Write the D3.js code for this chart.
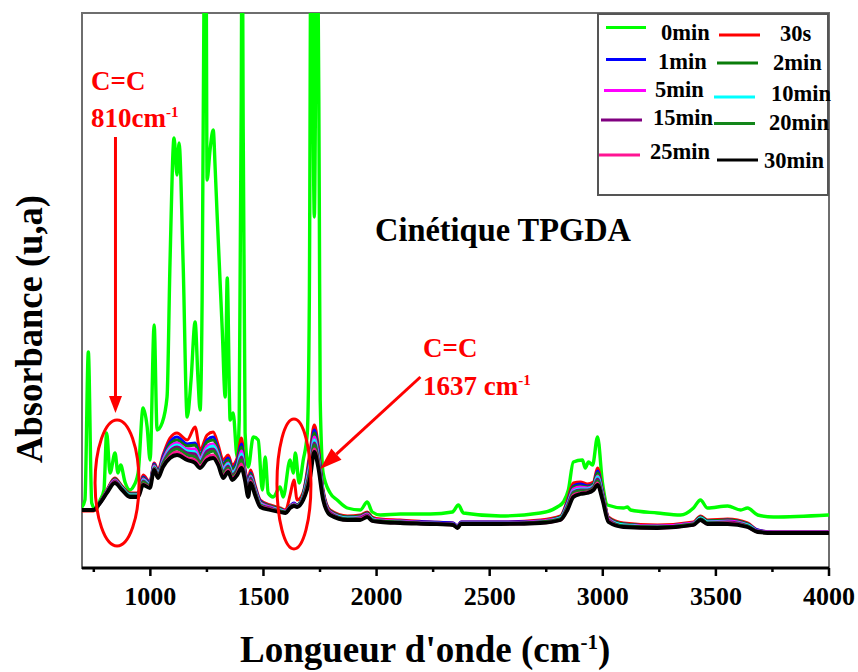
<!DOCTYPE html>
<html><head><meta charset="utf-8">
<script src="https://cdn.jsdelivr.net/npm/d3@7/dist/d3.min.js"></script>
<style>
body{margin:0;background:#fff}
svg{display:block}
text{font-family:"Liberation Serif","Times New Roman",serif;font-weight:bold}
</style>
</head><body>
<svg id="chart" width="858" height="672"></svg>
<script>
// ---------- DATA ----------
const wavenumbers0min = [700,713,728,743,762,780,797,809,824,846,859,871,890,912,926,948,970,988,1001,1019,1032,1054,1076,1089,1107,1120,1129,1147,1165,1182,1200,1213,1222,1231,1240,1244,1249,1253,1266,1280,1289,1297,1320,1333,1342,1355,1368,1386,1395,1404,1408,1412,1421,1435,1457,1479,1497,1510,1523,1545,1576,1589,1620,1634,1643,1660,1678,1696,1705,1713,1727,1740,1749,1753,1766,1797,1828,1873,1930,1961,1983,2019,2107,2240,2337,2364,2386,2550,2726,2801,2828,2850,2872,2912,2925,2939,2957,2979,3001,3023,3094,3111,3125,3244,3346,3403,3434,3465,3554,3612,3642,3687,3757,4000];
const abs0min = [.61,.68,2.16,.65,.58,.68,.78,1.35,.95,1.15,.95,1.03,.86,.78,.81,.95,1.60,1.41,1.08,2.43,1.38,1.45,1.71,3.05,4.30,3.93,4.25,3.05,1.51,1.88,2.46,1.88,1.58,2.68,6.0,7.0,6.0,3.88,4.18,4.38,3.98,3.55,2.38,1.71,2.90,1.48,1.55,1.11,1.48,4.68,7.0,4.68,1.35,1.01,1.31,1.28,.78,1.11,.75,.71,.81,.71,1.08,.95,1.15,.85,1.08,1.35,2.68,7.0,3.51,7.0,3.68,1.68,.95,.75,.68,.60,.58,.66,.56,.53,.54,.54,.56,.63,.55,.52,.55,.61,.66,.78,1.06,1.08,1.00,1.06,1.03,1.31,.85,.63,.60,.61,.58,.55,.53,.60,.68,.60,.62,.58,.60,.53,.51,.53];

const wavenumbersCured = [700,750,780,810,845,877,912,948,970,1000,1019,1036,1058,1089,1120,1165,1200,1222,1253,1280,1302,1324,1346,1364,1386,1405,1420,1435,1445,1465,1488,1532,1576,1600,1620,1637,1651,1678,1709,1727,1744,1766,1797,1873,1930,1961,1983,2020,2107,2240,2340,2360,2375,2550,2726,2815,2846,2872,2903,2934,2961,2979,3001,3027,3094,3244,3403,3434,3465,3554,3642,3687,3757,4000];
const abs30s = [.57,.57,.66,.78,.90,.82,.75,.75,.93,.86, 1.05,.98,1.13,1.30,1.35,1.28,1.41,1.18,1.33,1.36, 1.23,1.08,1.13,1.03,1.10,1.30,1.00,.88,.98,.83, .68,.63,.60,.58,.73,.88,.68,.76,1.18,1.43, 1.23,.78,.58,.52,.53,.56,.51,.49,.48,.46, .45,.42,.46,.46,.48,.52,.68,.85,.86,.84, .86,1.00,.78,.51,.45,.43,.46,.52,.48,.49, .45,.38,.36,.36];
const abs1min = [.58,.58,.66,.77,.89,.81,.74,.74,.91,.85, 1.04,.96,1.11,1.26,1.31,1.24,1.25,1.14,1.28,1.31, 1.19,1.04,1.10,1.00,1.07,1.24,.98,.85,.95,.81, .67,.62,.59,.57,.62,.65,.63,.74,1.13,1.38, 1.19,.76,.57,.51,.52,.55,.50,.48,.47,.46, .45,.42,.46,.46,.47,.51,.66,.82,.84,.82, .84,.97,.76,.50,.44,.42,.45,.51,.47,.48, .44,.38,.36,.36];
const abs2min = [.58,.58,.66,.77,.89,.81,.74,.74,.90,.84, 1.03,.96,1.09,1.24,1.28,1.22,1.23,1.13,1.26,1.28, 1.17,1.03,1.08,.99,1.05,1.21,.96,.83,.94,.80, .66,.62,.59,.57,.62,.64,.63,.74,1.10,1.35, 1.16,.75,.57,.51,.52,.55,.50,.48,.47,.45, .44,.41,.45,.45,.47,.51,.65,.81,.82,.81, .84,.95,.75,.50,.44,.42,.45,.51,.47,.48, .44,.37,.36,.36];
const abs5min = [.58,.58,.65,.77,.88,.80,.73,.73,.89,.83, 1.02,.94,1.08,1.21,1.25,1.19,1.19,1.10,1.22,1.24, 1.14,1.00,1.05,.96,1.02,1.17,.95,.80,.92,.79, .65,.61,.58,.57,.61,.64,.62,.72,1.06,1.31, 1.13,.74,.56,.50,.51,.54,.49,.48,.47,.45, .44,.41,.45,.45,.47,.50,.64,.79,.81,.80, .82,.92,.74,.49,.43,.42,.45,.50,.46,.47, .43,.37,.36,.36];
const abs10min = [.58,.58,.65,.76,.87,.80,.73,.73,.88,.83, 1.01,.94,1.06,1.19,1.23,1.17,1.16,1.08,1.19,1.22, 1.12,.98,1.04,.95,1.01,1.14,.93,.79,.91,.78, .64,.60,.58,.56,.61,.63,.62,.72,1.03,1.28, 1.11,.73,.55,.50,.50,.53,.49,.47,.46,.45, .44,.41,.45,.45,.46,.50,.63,.77,.79,.79, .82,.91,.73,.48,.43,.41,.44,.50,.46,.46, .43,.37,.35,.35];
const abs15min = [.58,.58,.65,.76,.87,.79,.72,.72,.87,.82, 1.00,.93,1.05,1.17,1.21,1.15,1.14,1.06,1.17,1.19, 1.10,.96,1.02,.93,.99,1.11,.92,.77,.90,.77, .63,.60,.57,.56,.61,.63,.62,.71,1.00,1.25, 1.09,.72,.55,.49,.50,.53,.48,.47,.46,.45, .44,.41,.45,.45,.46,.49,.62,.76,.78,.78, .81,.89,.72,.48,.42,.41,.44,.49,.45,.46, .42,.37,.35,.35];
const abs20min = [.58,.58,.65,.76,.86,.79,.72,.72,.86,.82, 1.00,.92,1.04,1.15,1.19,1.13,1.11,1.05,1.14,1.17, 1.08,.95,1.00,.92,.97,1.08,.91,.75,.88,.76, .63,.59,.57,.56,.60,.63,.61,.70,.98,1.23, 1.07,.71,.54,.49,.49,.52,.48,.47,.46,.44, .43,.40,.44,.44,.46,.49,.61,.75,.77,.77, .80,.87,.71,.47,.42,.41,.44,.49,.45,.45, .42,.36,.35,.35];
const abs25min = [.58,.58,.65,.75,.86,.78,.71,.71,.84,.81, .99,.91,1.02,1.12,1.16,1.10,1.08,1.02,1.11,1.13, 1.05,.92,.98,.90,.95,1.04,.89,.73,.87,.74, .62,.59,.56,.55,.60,.62,.61,.69,.94,1.19, 1.04,.69,.54,.48,.49,.52,.47,.46,.45,.44, .43,.40,.44,.44,.45,.48,.59,.73,.75,.76, .79,.85,.69,.47,.41,.40,.43,.48,.44,.45, .41,.36,.35,.35];
const abs30min = [.58,.58,.65,.75,.85,.78,.71,.71,.83,.80, .98,.90,1.01,1.10,1.13,1.08,1.05,1.00,1.08,1.10, 1.03,.90,.96,.88,.93,1.00,.88,.71,.85,.73, .61,.58,.56,.55,.60,.62,.61,.68,.91,1.16, 1.01,.68,.53,.48,.48,.51,.47,.46,.45,.44, .43,.40,.44,.44,.45,.48,.58,.71,.74,.75, .78,.83,.68,.46,.41,.40,.43,.48,.44,.44, .41,.36,.35,.35];

const seriesLabels = ["0min","30s","1min","2min","5min","10min","15min","20min","25min","30min"];
const majorTicks = [1000,1500,2000,2500,3000,3500,4000];
const minorTicks = [750,1250,1750,2250,2750,3250,3750];

// ---------- STYLE / LAYOUT ----------
const colors = ["#00ff00","#ff0000","#0000ff","#0a7d0a","#ff00ff","#00ffff","#800080","#13861a","#ff1493","#000000"];
const widths = [3.4,3,3,3,3,3,3,3,3,3.8];
const seriesData = [
  [wavenumbers0min, abs0min],
  [wavenumbersCured, abs30s],[wavenumbersCured, abs1min],[wavenumbersCured, abs2min],
  [wavenumbersCured, abs5min],[wavenumbersCured, abs10min],[wavenumbersCured, abs15min],
  [wavenumbersCured, abs20min],[wavenumbersCured, abs25min],[wavenumbersCured, abs30min]
];
const series = seriesLabels.map((lab,i)=>({
  label: lab, color: colors[i], width: widths[i],
  points: seriesData[i][0].map((w,j)=>({w, a: seriesData[i][1][j]}))
}));

const L = 82, R = 829, T = 13, B = 568;
const svg = d3.select("#chart");
const x = d3.scaleLinear().domain([700,4000]).range([L,828.5]);
const y = d3.scaleLinear().domain([0,5.55]).range([B,T]);

svg.append("defs").append("clipPath").attr("id","plotclip")
  .append("rect").attr("x",L).attr("y",T).attr("width",R-L).attr("height",B-T);

// frame
svg.append("rect").attr("x",L).attr("y",T).attr("width",R-L).attr("height",B-T)
  .attr("fill","none").attr("stroke","#6e6e6e").attr("stroke-width",2);

// curves
const line = d3.line().x(d=>x(d.w)).y(d=>y(d.a)).curve(d3.curveMonotoneX);
const gLines = svg.append("g").attr("clip-path","url(#plotclip)");
series.forEach(s=>{
  gLines.append("path").datum(s.points).attr("d",line)
    .attr("fill","none").attr("stroke",s.color).attr("stroke-width",s.width)
    .attr("stroke-linejoin","round").attr("stroke-linecap","round");
});

// x axis
const gx = svg.append("g").attr("transform",`translate(0,${B})`)
  .call(d3.axisBottom(x).tickValues(majorTicks).tickSize(8).tickPadding(12).tickFormat(d3.format("d")));
gx.select(".domain").attr("stroke","#000").attr("stroke-width",3).attr("d",`M${L},0H${R}`);
gx.selectAll(".tick line").attr("stroke","#000").attr("stroke-width",2.5);
gx.selectAll(".tick text").attr("font-size",26).attr("fill","#000")
  .attr("font-family","Liberation Serif, Times New Roman, serif").attr("font-weight","bold")
  .attr("dy",null).attr("y",37).attr("dominant-baseline","auto");
const gxm = svg.append("g").attr("transform",`translate(0,${B})`)
  .call(d3.axisBottom(x).tickValues(minorTicks).tickSize(4).tickFormat(""));
gxm.select(".domain").remove();
gxm.selectAll(".tick line").attr("stroke","#000").attr("stroke-width",2.5);

// axis titles
const xt = svg.append("text").attr("x",240).attr("y",662).attr("font-size",37).attr("fill","#000");
xt.append("tspan").text("Longueur d'onde (cm");
xt.append("tspan").attr("font-size",21).attr("dy",-13).text("-1");
xt.append("tspan").attr("dy",13).text(")");

svg.append("text").attr("transform","translate(42,329) rotate(-90)")
  .attr("text-anchor","middle").attr("font-size",37).attr("fill","#000")
  .attr("textLength",268).attr("lengthAdjust","spacingAndGlyphs")
  .text("Absorbance (u,a)");

svg.append("text").attr("x",375).attr("y",241).attr("font-size",33).attr("fill","#000")
  .attr("textLength",256).attr("lengthAdjust","spacingAndGlyphs")
  .text("Cinétique TPGDA");

// legend
svg.append("rect").attr("x",598).attr("y",14).attr("width",230).attr("height",181)
  .attr("fill","#fff").attr("stroke","#555").attr("stroke-width",2);
const legendLayout = [
  {x1:606,x2:646,ly:27.5,tx:661,ty:39.5},
  {x1:719,x2:760,ly:35,tx:780,ty:40.5},
  {x1:606,x2:646,ly:59.5,tx:658,ty:69},
  {x1:717,x2:758,ly:63,tx:773,ty:70},
  {x1:604,x2:646,ly:90.5,tx:655,ty:97},
  {x1:714,x2:755,ly:97,tx:771,ty:101},
  {x1:601,x2:642,ly:120,tx:653,ty:125},
  {x1:714,x2:755,ly:123.5,tx:769,ty:130},
  {x1:599,x2:640,ly:155,tx:650,ty:158.5},
  {x1:717,x2:758,ly:160,tx:764,ty:168}
];
series.forEach((s,i)=>{
  const p = legendLayout[i];
  svg.append("line").attr("x1",p.x1).attr("x2",p.x2).attr("y1",p.ly).attr("y2",p.ly)
    .attr("stroke",s.color).attr("stroke-width",3);
  svg.append("text").attr("x",p.tx).attr("y",p.ty).attr("font-size",22.5).attr("fill","#000").text(s.label);
});

// annotations
const red = "#ff0000";
const ann = svg.append("g");
ann.append("ellipse").attr("cx",x(855)).attr("cy",y(0.85)).attr("rx",22).attr("ry",63)
  .attr("fill","none").attr("stroke",red).attr("stroke-width",3);
ann.append("ellipse").attr("cx",x(1637)).attr("cy",y(0.84)).attr("rx",17).attr("ry",65)
  .attr("fill","none").attr("stroke",red).attr("stroke-width",3);

function arrow(x1,y1,x2,y2,headLen,headW){
  const dx=x2-x1, dy=y2-y1, len=Math.hypot(dx,dy), ux=dx/len, uy=dy/len;
  const bx=x2-ux*headLen, by=y2-uy*headLen;
  ann.append("line").attr("x1",x1).attr("y1",y1).attr("x2",bx).attr("y2",by)
    .attr("stroke",red).attr("stroke-width",3);
  ann.append("path").attr("d",`M${x2},${y2}L${bx-uy*headW/2},${by+ux*headW/2}L${bx+uy*headW/2},${by-ux*headW/2}Z`)
    .attr("fill",red);
}
arrow(x(848),y(4.31),x(848),y(1.55),17,13);
arrow(x(2196),y(1.91),x(1753),y(0.99),22,15);

function label(tx,ty,main,sup){
  const t = ann.append("text").attr("x",tx).attr("y",ty).attr("font-size",27).attr("fill",red);
  t.append("tspan").text(main);
  if(sup){ t.append("tspan").attr("font-size",15).attr("dy",-10).text(sup); }
}
label(91,90,"C=C");
label(91,127,"810cm","-1");
label(423,357,"C=C");
label(423,395,"1637 cm","-1");
</script>
</body></html>
